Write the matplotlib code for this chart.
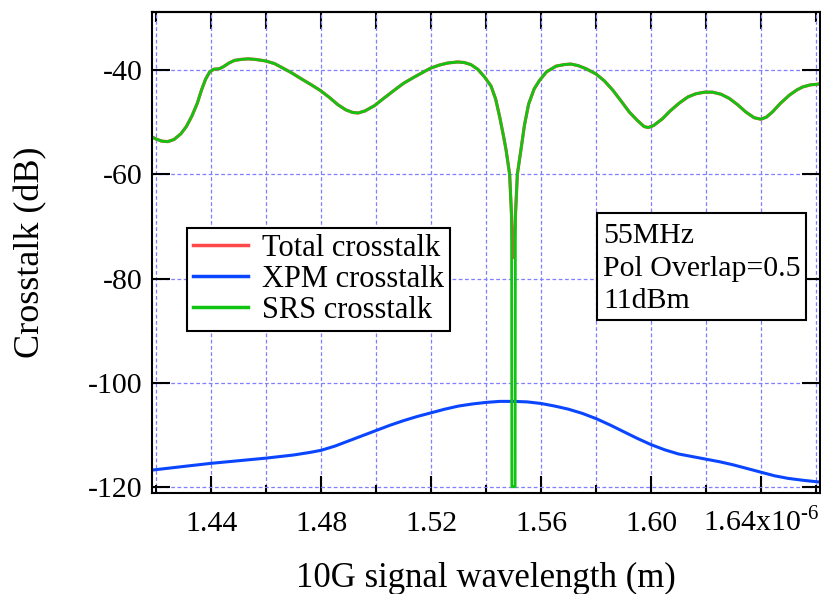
import matplotlib
matplotlib.use("Agg")
import matplotlib.pyplot as plt
from matplotlib.patches import Rectangle
from matplotlib.lines import Line2D

plt.rcParams['font.family'] = ['Liberation Serif', 'DejaVu Serif']
plt.rcParams['mathtext.fontset'] = 'custom'
plt.rcParams['mathtext.rm'] = 'Liberation Serif'

# wavelength in um (axis shows x10^-6 m), crosstalk in dB
wl_top = [1.4185, 1.4200, 1.4220, 1.4242, 1.4265, 1.4290, 1.4310, 1.4330, 1.4350, 1.4365,
          1.4380, 1.4395, 1.4410, 1.4430, 1.4445, 1.4465, 1.4485, 1.4510, 1.4535, 1.4560,
          1.4598, 1.4630, 1.4655, 1.4690, 1.4727, 1.4765, 1.4798, 1.4830, 1.4861, 1.4890,
          1.4915, 1.4935, 1.4960, 1.4994, 1.5030, 1.5067, 1.5100, 1.5139, 1.5170, 1.5198,
          1.5230, 1.5261, 1.5297, 1.5320, 1.5345, 1.5370, 1.5395, 1.5418, 1.5435, 1.5450,
          1.5465, 1.5473, 1.5486, 1.5493, 1.5494, 1.5500, 1.5506, 1.5507, 1.5514, 1.5527,
          1.5540, 1.5555, 1.5575, 1.5594, 1.5620, 1.5655, 1.5685, 1.5709, 1.5735, 1.5764,
          1.5800, 1.5830, 1.5861, 1.5890, 1.5921, 1.5950, 1.5975, 1.5990, 1.6010, 1.6042,
          1.6070, 1.6103, 1.6135, 1.6164, 1.6195, 1.6224, 1.6255, 1.6285, 1.6315, 1.6345,
          1.6375, 1.6400, 1.6420, 1.6442, 1.6470, 1.6503, 1.6530, 1.6552, 1.6580, 1.6600,
          1.6615]

srs_db = [-52.8, -53.2, -53.6, -53.7, -53.3, -52.2, -50.8, -48.8, -46.3, -43.8,
          -41.7, -40.3, -39.8, -39.7, -39.3, -38.6, -38.1, -37.9, -37.8, -37.9,
          -38.2, -38.7, -39.4, -40.4, -41.6, -42.8, -43.9, -45.2, -46.6, -47.6,
          -48.1, -48.2, -47.8, -46.8, -45.3, -43.8, -42.5, -41.3, -40.4, -39.6,
          -39.0, -38.6, -38.4, -38.5, -38.9, -39.8, -41.3, -43.0, -45.5, -49.0,
          -53.0, -55.3, -60.0, -68.0, -120.0, -120.0, -120.0, -68.0, -60.0, -55.3,
          -50.5, -46.5, -43.6, -42.0, -40.3, -39.2, -38.9, -38.8, -39.1, -39.7,
          -40.7, -42.0, -43.8, -45.8, -48.0, -49.6, -50.8, -51.0, -50.6, -49.3,
          -47.8, -46.3, -45.1, -44.5, -44.2, -44.2, -44.6, -45.4, -46.6, -48.0,
          -49.1, -49.4, -49.0, -48.0, -46.4, -44.8, -43.8, -43.2, -42.8, -42.7,
          -42.6]

total_db = [-52.8, -53.2, -53.6, -53.7, -53.3, -52.2, -50.8, -48.8, -46.3, -43.8,
            -41.7, -40.3, -39.8, -39.7, -39.3, -38.6, -38.1, -37.9, -37.8, -37.9,
            -38.2, -38.7, -39.4, -40.4, -41.6, -42.8, -43.9, -45.2, -46.6, -47.6,
            -48.1, -48.2, -47.8, -46.8, -45.3, -43.8, -42.5, -41.3, -40.4, -39.6,
            -39.0, -38.6, -38.4, -38.5, -38.9, -39.8, -41.3, -43.0, -45.5, -49.0,
            -53.0, -55.3, -60.0, -68.0, -70.0, -76.0, -70.0, -68.0, -60.0, -55.3,
            -50.5, -46.5, -43.6, -42.0, -40.3, -39.2, -38.9, -38.8, -39.1, -39.7,
            -40.7, -42.0, -43.8, -45.8, -48.0, -49.6, -50.8, -51.0, -50.6, -49.3,
            -47.8, -46.3, -45.1, -44.5, -44.2, -44.2, -44.6, -45.4, -46.6, -48.0,
            -49.1, -49.4, -49.0, -48.0, -46.4, -44.8, -43.8, -43.2, -42.8, -42.7,
            -42.6]

wl_xpm = [1.4185, 1.4300, 1.4400, 1.4500, 1.4600, 1.4700, 1.4760, 1.4800, 1.4850, 1.4900,
          1.4950, 1.5000, 1.5050, 1.5100, 1.5150, 1.5200, 1.5250, 1.5300, 1.5350, 1.5400,
          1.5450, 1.5500, 1.5550, 1.5600, 1.5650, 1.5700, 1.5750, 1.5800, 1.5850, 1.5900,
          1.5950, 1.6000, 1.6050, 1.6100, 1.6150, 1.6200, 1.6250, 1.6300, 1.6350, 1.6400,
          1.6450, 1.6500, 1.6560, 1.6615]
xpm_db = [-116.8, -116.1, -115.5, -115.0, -114.5, -113.9, -113.4, -113.0, -112.2, -111.2,
          -110.2, -109.2, -108.2, -107.3, -106.5, -105.8, -105.1, -104.5, -104.1, -103.8,
          -103.6, -103.6, -103.7, -104.0, -104.5, -105.1, -105.9, -106.9, -108.1, -109.4,
          -110.7, -111.9, -112.9, -113.7, -114.2, -114.7, -115.2, -115.8, -116.5, -117.2,
          -117.9, -118.4, -118.8, -119.1]

x_major = [1.44, 1.48, 1.52, 1.56, 1.60, 1.64]
x_labels = ['1.44', '1.48', '1.52', '1.56', '1.60', '1.64x10$^{\u2010' + '6}$']
x_minor = [1.42, 1.46, 1.50, 1.54, 1.58, 1.62, 1.66]
y_ticks = [-120, -100, -80, -60, -40]

info_lines = ['55MHz', 'Pol Overlap=0.5', '11dBm']

W, H = 821, 594
fig = plt.figure(figsize=(W / 100, H / 100), dpi=100)
ax = fig.add_axes([152 / W, 1 - 493 / H, (820 - 152) / W, (493 - 12) / H])

red, blue, green = '#ff4848', '#0a46ff', '#12c412'
ax.plot(wl_top, total_db, color=red, lw=2.3, solid_joinstyle='round')
ax.plot(wl_xpm, xpm_db, color=blue, lw=2.2)
ax.plot(wl_top, srs_db, color=green, lw=2.0, solid_joinstyle='round')

ax.set_xlim(1.4185, 1.6615)
ax.set_ylim(-121.2, -28.8)

ax.set_xticks(x_major)
ax.set_xticklabels(x_labels)
ax.set_xticks(x_minor, minor=True)
ax.set_yticks(y_ticks)
ax.set_yticklabels([str(v) for v in y_ticks])

ax.tick_params(axis='x', which='major', direction='in', length=12, width=1.5,
               labelsize=21.5, pad=27.5, top=False)
ax.tick_params(axis='x', which='minor', direction='in', length=6, width=1.5, top=False)
ax.tick_params(axis='y', direction='in', length=13, width=1.5, labelsize=21.5,
               pad=7, right=True)
for t in ax.xaxis.get_major_ticks():
    t.label1.set_verticalalignment('baseline')

# top axis: ticks every 0.02, no labels
top = ax.secondary_xaxis('top')
top.set_xticks([1.44, 1.46, 1.48, 1.50, 1.52, 1.54, 1.56, 1.58, 1.60, 1.62, 1.64])
top.set_xticks([1.42, 1.66], minor=True)
top.tick_params(which='major', direction='in', length=12, width=1.5, labeltop=False)
top.tick_params(which='minor', direction='in', length=7, width=1.5)
top.spines['top'].set_linewidth(1.5)

for s in ax.spines.values():
    s.set_linewidth(1.5)

grid_kw = dict(color='#7f7fff', lw=0.9, ls=(0, (3, 2)))
ax.grid(True, axis='x', which='both', **grid_kw)
ax.grid(True, axis='y', which='major', **grid_kw)
ax.set_axisbelow(True)

ax.set_xlabel('10G signal wavelength (m)', fontsize=25, va='baseline')
ax.xaxis.set_label_coords(0.5, (493 - 587) / 481)
ax.set_ylabel('Crosstalk (dB)', fontsize=26, va='center')
ax.yaxis.set_label_coords((31 - 152) / 668, 0.5)

handles = [Line2D([], [], color=red, lw=2.5),
           Line2D([], [], color=blue, lw=2.5),
           Line2D([], [], color=green, lw=2.5)]
leg = ax.legend(handles, ['Total crosstalk', 'XPM crosstalk', 'SRS crosstalk'],
                loc='upper left', bbox_to_anchor=(187 / W, 1 - 228 / H),
                bbox_transform=fig.transFigure, borderaxespad=0, fontsize=22,
                handlelength=1.8, handletextpad=0.45, borderpad=0.2,
                labelspacing=0.06, fancybox=False, framealpha=1, edgecolor='black')
leg.get_frame().set_linewidth(1.5)

# parameter box
fig.patches.append(Rectangle((597 / W, 1 - 320 / H), (806 - 597) / W, (320 - 213) / H,
                             transform=fig.transFigure, facecolor='white',
                             edgecolor='black', lw=1.5, zorder=5))
for i, line in enumerate(info_lines):
    fig.text(603 / W, 1 - (243 + 32.5 * i) / H, line, fontsize=21.5, va='baseline',
             ha='left', zorder=6)

fig.savefig('out.png', dpi=100)
